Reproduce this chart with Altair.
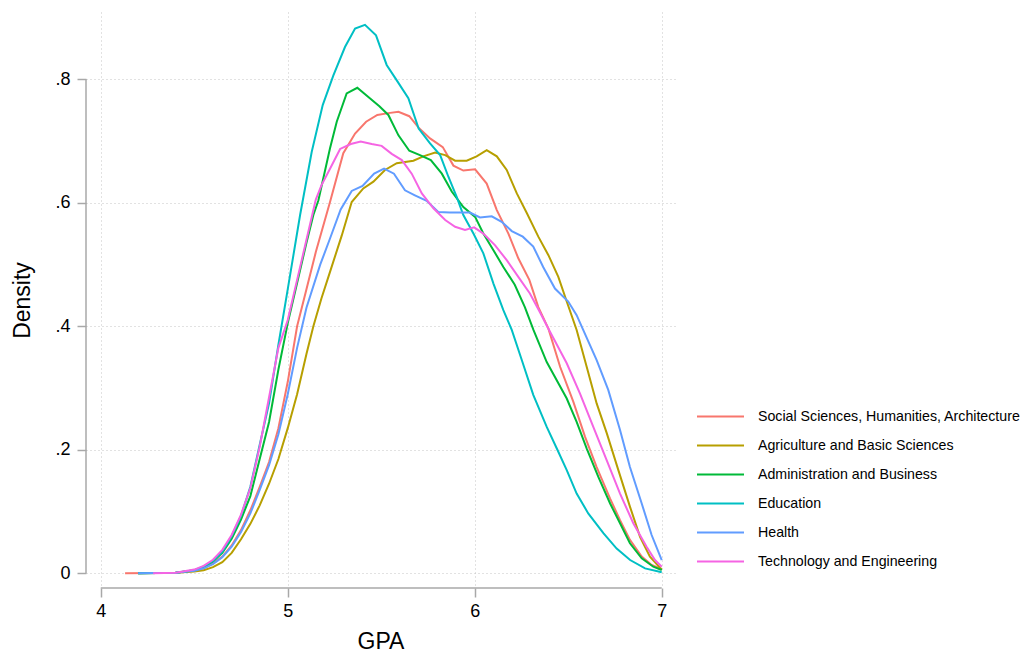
import altair as alt
import pandas as pd

categories = [
    "Social Sciences, Humanities, Architecture",
    "Agriculture and Basic Sciences",
    "Administration and Business",
    "Education",
    "Health",
    "Technology and Engineering",
]
colors = ["#F8766D", "#B79F00", "#00BA38", "#00BFC4", "#619CFF", "#F564E3"]

ss_x = [4.13, 4.3, 4.4, 4.5, 4.55, 4.6, 4.65, 4.7, 4.75, 4.8, 4.85, 4.9, 4.95, 5.0, 5.05, 5.1, 5.15,
        5.226, 5.297, 5.36, 5.419, 5.479, 5.538, 5.592, 5.65, 5.704, 5.761, 5.829, 5.886, 5.939, 6.002,
        6.064, 6.118, 6.18, 6.233, 6.292, 6.34, 6.394, 6.457, 6.527, 6.59, 6.652, 6.724, 6.777, 6.83,
        6.893, 6.946, 7.0]
ss_y = [0.0, 0.0005, 0.001, 0.004, 0.008, 0.016, 0.027, 0.045, 0.07, 0.102, 0.14, 0.18, 0.235, 0.31,
        0.40, 0.46, 0.52, 0.601, 0.68, 0.712, 0.731, 0.742, 0.745, 0.747, 0.74, 0.72, 0.704, 0.69, 0.66,
        0.652, 0.654, 0.631, 0.588, 0.55, 0.51, 0.475, 0.431, 0.396, 0.334, 0.278, 0.221, 0.172, 0.121,
        0.086, 0.054, 0.027, 0.0134, 0.0065]

ag_x = [4.2, 4.4, 4.5, 4.55, 4.6, 4.65, 4.7, 4.75, 4.8, 4.85, 4.9, 4.95, 5.0, 5.05, 5.1, 5.137, 5.18,
        5.226, 5.289, 5.342, 5.404, 5.458, 5.52, 5.583, 5.672, 5.725, 5.788, 5.842, 5.895, 5.957, 6.01,
        6.064, 6.118, 6.171, 6.225, 6.279, 6.34, 6.394, 6.447, 6.492, 6.545, 6.599, 6.652, 6.706, 6.768,
        6.83, 6.884, 6.937, 7.0]
ag_y = [0.0, 0.001, 0.003, 0.005, 0.01, 0.018, 0.033, 0.055, 0.08, 0.11, 0.145, 0.185, 0.235, 0.29,
        0.355, 0.40, 0.445, 0.488, 0.547, 0.601, 0.623, 0.634, 0.653, 0.664, 0.668, 0.675, 0.681, 0.677,
        0.668, 0.668, 0.675, 0.685, 0.675, 0.653, 0.615, 0.583, 0.545, 0.515, 0.48, 0.44, 0.394, 0.334,
        0.275, 0.227, 0.167, 0.108, 0.059, 0.027, 0.006]

ad_x = [4.2, 4.4, 4.5, 4.55, 4.6, 4.65, 4.7, 4.75, 4.8, 4.85, 4.9, 4.95, 5.0, 5.05, 5.1, 5.137, 5.164,
        5.226, 5.262, 5.315, 5.372, 5.431, 5.49, 5.538, 5.592, 5.65, 5.707, 5.765, 5.824, 5.877, 5.939,
        6.002, 6.046, 6.10, 6.153, 6.214, 6.268, 6.314, 6.385, 6.492, 6.545, 6.599, 6.661, 6.724, 6.777,
        6.83, 6.893, 6.955, 7.0]
ad_y = [0.0, 0.001, 0.005, 0.01, 0.019, 0.033, 0.056, 0.087, 0.125, 0.185, 0.245, 0.33, 0.405, 0.47,
        0.535, 0.58, 0.604, 0.688, 0.731, 0.777, 0.786, 0.771, 0.756, 0.742, 0.709, 0.684, 0.677, 0.669,
        0.647, 0.618, 0.593, 0.577, 0.55, 0.523, 0.496, 0.467, 0.431, 0.394, 0.342, 0.283, 0.245, 0.202,
        0.156, 0.113, 0.081, 0.0486, 0.0243, 0.0107, 0.0053]

ed_x = [4.2, 4.4, 4.5, 4.55, 4.6, 4.65, 4.7, 4.75, 4.8, 4.85, 4.9, 4.95, 5.0, 5.066, 5.128, 5.187,
        5.244, 5.306, 5.36, 5.413, 5.472, 5.529, 5.583, 5.645, 5.70, 5.761, 5.815, 5.859, 5.904, 5.939,
        5.993, 6.046, 6.10, 6.153, 6.198, 6.252, 6.313, 6.385, 6.442, 6.492, 6.545, 6.607, 6.688, 6.759,
        6.831, 6.911, 7.0]
ed_y = [0.0, 0.001, 0.005, 0.011, 0.02, 0.035, 0.06, 0.093, 0.14, 0.208, 0.275, 0.37, 0.46, 0.58,
        0.682, 0.758, 0.806, 0.852, 0.882, 0.888, 0.871, 0.823, 0.798, 0.769, 0.72, 0.696, 0.677, 0.642,
        0.609, 0.58, 0.55, 0.518, 0.469, 0.426, 0.394, 0.345, 0.289, 0.237, 0.20, 0.167, 0.129, 0.097,
        0.065, 0.040, 0.0215, 0.008, 0.0016]

he_x = [4.2, 4.4, 4.5, 4.55, 4.6, 4.65, 4.7, 4.75, 4.8, 4.85, 4.9, 4.95, 5.0, 5.05, 5.1, 5.174, 5.226,
        5.283, 5.342, 5.40, 5.462, 5.515, 5.568, 5.627, 5.68, 5.743, 5.805, 5.867, 5.974, 6.028, 6.091,
        6.144, 6.198, 6.257, 6.313, 6.366, 6.429, 6.50, 6.545, 6.58, 6.652, 6.714, 6.777, 6.83, 6.893,
        6.946, 7.0]
he_y = [0.0, 0.001, 0.004, 0.008, 0.015, 0.026, 0.043, 0.067, 0.097, 0.135, 0.175, 0.225, 0.29, 0.365,
        0.43, 0.50, 0.542, 0.589, 0.619, 0.627, 0.647, 0.655, 0.647, 0.62, 0.612, 0.603, 0.585, 0.584,
        0.584, 0.576, 0.578, 0.569, 0.554, 0.545, 0.529, 0.496, 0.461, 0.44, 0.418, 0.394, 0.345, 0.297,
        0.232, 0.172, 0.113, 0.062, 0.0215]

te_x = [4.28, 4.4, 4.5, 4.55, 4.6, 4.65, 4.7, 4.75, 4.8, 4.85, 4.9, 4.95, 5.0, 5.05, 5.1, 5.15, 5.18,
        5.226, 5.28, 5.337, 5.39, 5.449, 5.502, 5.556, 5.61, 5.663, 5.717, 5.779, 5.842, 5.895, 5.948,
        5.997, 6.046, 6.109, 6.171, 6.233, 6.295, 6.348, 6.394, 6.492, 6.563, 6.634, 6.706, 6.777, 6.848,
        6.919, 6.964, 7.0]
te_y = [0.0, 0.001, 0.006, 0.012, 0.022, 0.038, 0.062, 0.095, 0.138, 0.205, 0.285, 0.365, 0.41, 0.475,
        0.54, 0.605, 0.628, 0.655, 0.687, 0.695, 0.699, 0.695, 0.692, 0.679, 0.669, 0.647, 0.615, 0.591,
        0.572, 0.561, 0.556, 0.56, 0.55, 0.531, 0.507, 0.48, 0.453, 0.423, 0.396, 0.34, 0.291, 0.237,
        0.183, 0.129, 0.081, 0.043, 0.0215, 0.0107]

x_ticks = [4, 5, 6, 7]
y_ticks = [0, 0.2, 0.4, 0.6, 0.8]
x_axis_span = [4, 7]
y_axis_span = [0, 0.8]

series = [(categories[0], ss_x, ss_y), (categories[1], ag_x, ag_y), (categories[2], ad_x, ad_y),
          (categories[3], ed_x, ed_y), (categories[4], he_x, he_y), (categories[5], te_x, te_y)]
rows = []
for name, xs, ys in series:
    for xv, yv in zip(xs, ys):
        rows.append({"group": name, "gpa": xv, "density": yv})
df = pd.DataFrame(rows)

W, H = 589, 576
FONT = "Liberation Sans"
x_scale = alt.Scale(domain=[3.921, 7.071], nice=False, zero=False)
y_scale = alt.Scale(domain=[-0.0238, 0.9087], nice=False, zero=False)
color_scale = alt.Scale(domain=categories, range=colors)

x_axis = alt.Axis(values=x_ticks, title="GPA", domain=False, grid=True, gridDash=[1, 3],
                  gridColor="#c4c4c4", gridWidth=1, tickColor="#a8a8a8", tickSize=9, tickWidth=1.5,
                  labelFont=FONT, labelFontSize=18, labelColor="black", labelPadding=5, format="d",
                  titleFont=FONT, titleFontSize=23, titleFontWeight="normal", titleColor="black",
                  titleX=W / 2, titleY=53, titleBaseline="middle", titleAlign="center")
y_axis = alt.Axis(values=y_ticks, title="Density", domain=False, grid=True, gridDash=[1, 3],
                  gridColor="#c4c4c4", gridWidth=1, tickColor="#a8a8a8", tickSize=9, tickWidth=1.5,
                  labelFont=FONT, labelFontSize=18, labelColor="black", labelPadding=7,
                  labelExpr="datum.value == 0 ? '0' : '.' + format(datum.value * 10, 'd')",
                  titleFont=FONT, titleFontSize=23, titleFontWeight="normal", titleColor="black",
                  titleX=-64, titleY=288, titleBaseline="middle", titleAlign="center", titleAngle=270)

legend = alt.Legend(title=None, orient="none", legendX=610, legendY=390, symbolType="stroke",
                    symbolSize=2209, symbolStrokeWidth=2, labelFont=FONT, labelFontSize=14.2,
                    labelColor="black", labelOffset=13, padding=0, rowPadding=0, symbolOffset=0,
                    labelLimit=0, clipHeight=29)

layers = []
for name in categories:
    layers.append(
        alt.Chart(df).transform_filter(alt.datum.group == name)
        .mark_line(strokeWidth=2)
        .encode(
            x=alt.X("gpa:Q", scale=x_scale, axis=x_axis),
            y=alt.Y("density:Q", scale=y_scale, axis=y_axis),
            color=alt.Color("group:N", scale=color_scale, legend=legend),
            order=alt.Order("gpa:Q"),
        )
    )

yrule = alt.Chart(pd.DataFrame({"y0": [y_axis_span[0]], "y1": [y_axis_span[1]]})).mark_rule(
    color="#a8a8a8", strokeWidth=1.5).encode(
    x=alt.value(0), y=alt.Y("y0:Q", scale=y_scale, axis=y_axis), y2="y1:Q")
xrule = alt.Chart(pd.DataFrame({"x0": [x_axis_span[0]], "x1": [x_axis_span[1]]})).mark_rule(
    color="#a8a8a8", strokeWidth=1.5).encode(
    y=alt.value(H), x=alt.X("x0:Q", scale=x_scale, axis=x_axis), x2="x1:Q")

chart = alt.layer(yrule, xrule, *layers).properties(
    width=W, height=H, autosize=alt.AutoSizeParams(type="none"),
    padding={"left": 78, "top": 4, "right": 346, "bottom": 66},
    background="white",
).configure_view(stroke=None)

chart.save("out.html", embed_options={"renderer": "svg", "actions": False})
